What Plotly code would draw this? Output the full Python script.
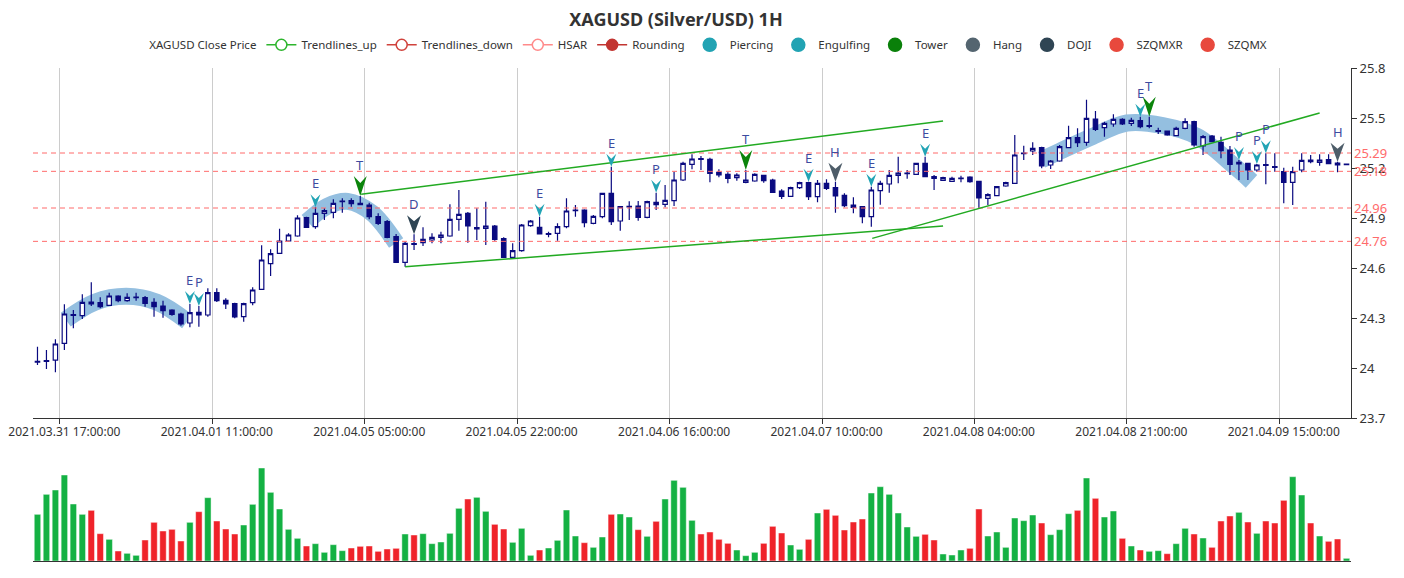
import plotly.graph_objects as go

# ---------------- data ----------------
opens = [24.036, 24.040, 24.048, 24.148, 24.316, 24.314, 24.396, 24.392, 24.376, 24.432,
         24.404, 24.422, 24.422, 24.394, 24.372, 24.348, 24.324, 24.270, 24.334, 24.318,
         24.452, 24.406, 24.386, 24.308, 24.392, 24.472, 24.626, 24.688, 24.762, 24.792,
         24.902, 24.848, 24.928, 24.934, 24.998, 25.004, 24.988, 24.978, 24.908, 24.878,
         24.788, 24.634, 24.746, 24.752, 24.768, 24.784, 24.792, 24.892, 24.928, 24.834,
         24.838, 24.852, 24.776, 24.664, 24.704, 24.854, 24.844, 24.802, 24.808, 24.848,
         24.944, 24.948, 24.868, 24.908, 25.048, 24.882, 24.966, 24.972, 24.904, 24.994,
         24.982, 25.004, 25.128, 25.222, 25.256, 25.252, 25.174, 25.162, 25.142, 25.114,
         25.122, 25.156, 25.128, 25.062, 25.030, 25.082, 25.112, 25.028, 25.108, 25.082,
         25.036, 24.978, 24.968, 24.908, 25.064, 25.104, 25.156, 25.166, 25.162, 25.228,
         25.148, 25.126, 25.120, 25.136, 25.146, 25.120, 25.018, 25.034, 25.092, 25.108,
         25.286, 25.302, 25.322, 25.218, 25.242, 25.322, 25.382, 25.354, 25.494, 25.442,
         25.464, 25.492, 25.468, 25.484, 25.450, 25.420, 25.422, 25.394, 25.438, 25.478,
         25.332, 25.392, 25.354, 25.308, 25.224, 25.228, 25.188, 25.220, 25.208, 25.178,
         25.114, 25.188, 25.248, 25.234, 25.250, 25.230, 25.220]
highs = [24.128, 24.108, 24.172, 24.382, 24.348, 24.442, 24.514, 24.424, 24.452, 24.436,
         24.448, 24.452, 24.432, 24.418, 24.404, 24.352, 24.332, 24.384, 24.372, 24.478,
         24.478, 24.418, 24.392, 24.392, 24.484, 24.736, 24.712, 24.836, 24.808, 24.916,
         24.908, 24.964, 24.958, 25.012, 25.018, 25.018, 25.032, 24.992, 24.928, 24.888,
         24.804, 24.758, 24.802, 24.844, 24.808, 24.818, 24.982, 25.068, 24.936, 24.958,
         24.998, 24.858, 24.784, 24.748, 24.864, 24.888, 24.908, 24.818, 24.868, 25.018,
         24.978, 24.952, 24.918, 25.052, 25.208, 24.972, 25.000, 25.002, 25.004, 25.052,
         25.098, 25.178, 25.238, 25.282, 25.272, 25.262, 25.192, 25.174, 25.168, 25.188,
         25.168, 25.158, 25.136, 25.072, 25.088, 25.118, 25.118, 25.128, 25.132, 25.118,
         25.048, 25.024, 24.972, 25.088, 25.124, 25.188, 25.268, 25.188, 25.232, 25.268,
         25.158, 25.148, 25.148, 25.154, 25.150, 25.124, 25.048, 25.092, 25.118, 25.398,
         25.334, 25.354, 25.328, 25.248, 25.338, 25.454, 25.438, 25.610, 25.542, 25.478,
         25.522, 25.498, 25.502, 25.508, 25.508, 25.442, 25.424, 25.448, 25.498, 25.484,
         25.398, 25.398, 25.388, 25.332, 25.248, 25.232, 25.224, 25.288, 25.288, 25.202,
         25.208, 25.288, 25.278, 25.282, 25.282, 25.238, 25.226]
lows = [24.018, 23.994, 23.974, 24.108, 24.238, 24.294, 24.372, 24.358, 24.372, 24.394,
        24.398, 24.404, 24.368, 24.308, 24.302, 24.314, 24.254, 24.244, 24.248, 24.308,
        24.396, 24.354, 24.298, 24.278, 24.376, 24.468, 24.552, 24.688, 24.758, 24.788,
        24.840, 24.836, 24.888, 24.898, 24.932, 24.968, 24.978, 24.892, 24.858, 24.778,
        24.634, 24.608, 24.708, 24.732, 24.748, 24.748, 24.788, 24.824, 24.752, 24.768,
        24.738, 24.764, 24.664, 24.658, 24.698, 24.848, 24.802, 24.784, 24.764, 24.838,
        24.908, 24.844, 24.862, 24.898, 24.858, 24.824, 24.888, 24.884, 24.898, 24.948,
        24.964, 24.972, 25.122, 25.192, 25.188, 25.114, 25.144, 25.108, 25.124, 25.108,
        25.118, 25.112, 25.052, 25.014, 25.028, 25.074, 25.008, 24.994, 25.068, 24.932,
        24.964, 24.928, 24.868, 24.848, 24.980, 25.052, 25.108, 25.136, 25.158, 25.144,
        25.068, 25.122, 25.116, 25.114, 25.112, 24.960, 24.978, 25.032, 25.088, 25.104,
        25.248, 25.278, 25.198, 25.194, 25.238, 25.318, 25.326, 25.334, 25.422, 25.388,
        25.448, 25.458, 25.452, 25.438, 25.438, 25.404, 25.394, 25.392, 25.432, 25.328,
        25.278, 25.354, 25.258, 25.158, 25.128, 25.128, 25.178, 25.102, 25.178, 24.988,
        24.978, 25.174, 25.228, 25.214, 25.222, 25.174, 25.216]
closes = [24.040, 24.044, 24.144, 24.324, 24.320, 24.394, 24.384, 24.368, 24.432, 24.404,
          24.424, 24.426, 24.388, 24.368, 24.344, 24.322, 24.264, 24.332, 24.318, 24.452,
          24.404, 24.384, 24.306, 24.386, 24.468, 24.648, 24.686, 24.762, 24.798, 24.900,
          24.844, 24.928, 24.944, 24.988, 25.002, 24.986, 24.980, 24.908, 24.868, 24.784,
          24.634, 24.748, 24.742, 24.772, 24.784, 24.798, 24.892, 24.922, 24.852, 24.842,
          24.852, 24.772, 24.664, 24.704, 24.858, 24.882, 24.804, 24.806, 24.848, 24.942,
          24.948, 24.872, 24.910, 25.048, 24.878, 24.968, 24.970, 24.904, 24.998, 24.980,
          25.006, 25.128, 25.228, 25.254, 25.252, 25.168, 25.158, 25.138, 25.158, 25.128,
          25.162, 25.124, 25.054, 25.030, 25.082, 25.112, 25.028, 25.108, 25.078, 25.032,
          24.974, 24.964, 24.908, 25.068, 25.108, 25.156, 25.170, 25.170, 25.228, 25.148,
          25.138, 25.142, 25.138, 25.140, 25.118, 25.020, 25.040, 25.088, 25.112, 25.278,
          25.290, 25.318, 25.212, 25.242, 25.328, 25.382, 25.352, 25.498, 25.432, 25.468,
          25.492, 25.464, 25.486, 25.448, 25.454, 25.424, 25.398, 25.438, 25.478, 25.338,
          25.388, 25.358, 25.304, 25.222, 25.234, 25.188, 25.218, 25.216, 25.204, 25.114,
          25.178, 25.246, 25.238, 25.248, 25.226, 25.218, 25.224]
volumes = [140, 200, 213, 258, 171, 140, 152, 82, 65, 30,
           23, 17, 63, 116, 90, 95, 60, 116, 148, 190,
           120, 96, 81, 108, 170, 279, 206, 156, 95, 68,
           45, 52, 26, 49, 31, 39, 44, 45, 29, 36,
           38, 81, 78, 82, 52, 57, 83, 158, 186, 191,
           149, 110, 96, 56, 98, 17, 33, 39, 62, 153,
           75, 55, 41, 72, 140, 141, 132, 94, 74, 119,
           186, 242, 221, 122, 81,
           87, 65, 53, 33, 16, 26, 53, 104, 84, 48,
           35, 65, 144, 155, 137, 93, 117, 126, 204, 223,
           200, 144, 102, 74, 80, 63, 21, 18, 33, 38,
           156, 75, 87, 41, 129, 121, 138, 114, 79, 94,
           142, 152, 249, 188, 132, 150, 68, 45, 33, 29,
           31, 22, 52, 98, 81, 69, 41, 120, 135, 146,
           117, 83, 120, 114, 182, 253, 198, 114, 75, 59,
           66, 8]

label_idx = [3, 20, 37, 54, 71, 88, 105, 122, 139]
label_text = ["2021.03.31 17:00:00", "2021.04.01 11:00:00", "2021.04.05 05:00:00",
              "2021.04.05 22:00:00", "2021.04.06 16:00:00", "2021.04.07 10:00:00",
              "2021.04.08 04:00:00", "2021.04.08 21:00:00", "2021.04.09 15:00:00"]
price_ticks = [23.7, 24.0, 24.3, 24.6, 24.9, 25.2, 25.5, 25.8]
price_ticktext = ["23.7", "24", "24.3", "24.6", "24.9", "25.2", "25.5", "25.8"]

hsar_levels = [25.29, 25.18, 24.96, 24.76]

trend_up_lines = [
    [(36.1, 25.042), (101.0, 25.482)],
    [(41.0, 24.608), (101.0, 24.852)],
    [(93.1, 24.778), (143.0, 25.530)],
]
rounding_arcs = [
    [(3.15, 24.29), (6.4, 24.395), (9.9, 24.43), (13.3, 24.395), (16.7, 24.28)],
    [(30.1, 24.88), (32.3, 24.97), (34.6, 25.00), (37.3, 24.93), (40.0, 24.75)],
    [(112.0, 25.25), (114.0, 25.30), (117.7, 25.39), (121.5, 25.47), (125.5, 25.455),
     (129.3, 25.39), (133.5, 25.21), (135.4, 25.12)],
]

engulfing_idx = [17, 31, 56, 64, 86, 93, 99, 123]
piercing_idx = [18, 69, 134, 136, 137]
tower_idx = [36, 79, 124]
hang_idx = [89, 145]
doji_idx = [42]

# ---------------- styles ----------------
NAVY = "#0a0a80"
UP = "#14b143"
DOWN = "#ef232a"
TEAL = "#22a4b5"
TOWER = "#0b840b"
HANG = "#4e5d69"
DOJI = "#2f4554"
LETTER = "#3d4ba0"
GREEN_LINE = "#22aa22"
HSAR_C = "#ff6b6b"
BAND = "#94bfe0"

N = len(opens)
xs = list(range(N))

fig = go.Figure()

# rounding bands (base subplot, underneath candles)
for pts in rounding_arcs:
    fig.add_trace(go.Scatter(x=[p[0] for p in pts], y=[p[1] for p in pts], mode="lines",
                             line=dict(color=BAND, width=17, shape="spline"),
                             hoverinfo="skip", showlegend=False, xaxis="x", yaxis="y"))

# candles on overlay subplot
fig.add_trace(go.Candlestick(
    x=xs, open=opens, high=highs, low=lows, close=closes,
    increasing=dict(line=dict(color=NAVY, width=1.2), fillcolor="#ffffff"),
    decreasing=dict(line=dict(color=NAVY, width=1.2), fillcolor=NAVY),
    whiskerwidth=0, showlegend=False, xaxis="x3", yaxis="y3", name="XAGUSD"))

# HSAR lines
for lv in hsar_levels:
    fig.add_trace(go.Scatter(x=[-0.5, N - 0.5], y=[lv, lv], mode="lines",
                             line=dict(color=HSAR_C, width=1, dash="5px,4px"),
                             hoverinfo="skip", showlegend=False, xaxis="x3", yaxis="y3"))

# trendlines
for seg in trend_up_lines:
    fig.add_trace(go.Scatter(x=[p[0] for p in seg], y=[p[1] for p in seg], mode="lines",
                             line=dict(color=GREEN_LINE, width=1.5),
                             hoverinfo="skip", showlegend=False, xaxis="x3", yaxis="y3"))

# volume
vol_colors = [UP if c >= o else DOWN for o, c in zip(opens, closes)]
fig.add_trace(go.Bar(x=xs, y=volumes,
                     marker=dict(color=vol_colors, line=dict(color="rgba(255,255,255,0.45)", width=1)),
                     showlegend=False, xaxis="x2", yaxis="y2", hoverinfo="skip"))

# legend entries
def leg(name, mode, color, line=None, mfill=None, size=12):
    m = dict(color=mfill if mfill else color, size=size, symbol="circle",
             line=dict(color=color, width=1.5))
    kw = dict(x=[None], y=[None], name=name, mode=mode, marker=m, xaxis="x", yaxis="y")
    if line:
        kw["line"] = dict(color=line, width=1.5)
    fig.add_trace(go.Scatter(**kw))

fig.add_trace(go.Scatter(x=[None], y=[None], name="XAGUSD Close Price", mode="lines",
                         line=dict(color="rgba(0,0,0,0)"), xaxis="x", yaxis="y"))
leg("Trendlines_up", "lines+markers", "#2db52d", line="#2db52d", mfill="#ffffff", size=11)
leg("Trendlines_down", "lines+markers", "#d0423c", line="#d0423c", mfill="#ffffff", size=11)
leg("HSAR", "lines+markers", "#ff8a8a", line="#ff8a8a", mfill="#ffffff", size=11)
leg("Rounding", "lines+markers", "#c23531", line="#c23531", size=11)
leg("Piercing", "markers", "#22a3b3", size=13)
leg("Engulfing", "markers", "#22a3b3", size=13)
leg("Tower", "markers", "#0a800a", size=13)
leg("Hang", "markers", "#546570", size=13)
leg("DOJI", "markers", "#2f4554", size=13)
leg("SZQMXR", "markers", "#e8493d", size=13)
leg("SZQMX", "markers", "#e8493d", size=13)

# signal arrows + letters
shapes = []
annotations = []
signal_groups = [
    (engulfing_idx, "E", TEAL, 10, 13, 5),
    (piercing_idx, "P", TEAL, 10, 13, 5),
    (tower_idx, "T", TOWER, 13, 20, 7),
    (hang_idx, "H", HANG, 14, 19, 6),
    (doji_idx, "D", DOJI, 14, 19, 6),
]
for idxs, letter, color, w, h, notch in signal_groups:
    for i in idxs:
        shapes.append(dict(type="path", xref="x", yref="y", xsizemode="pixel", ysizemode="pixel",
                           xanchor=i, yanchor=highs[i],
                           path=f"M0,0 L{-w/2},{h} L0,{h-notch} L{w/2},{h} Z",
                           fillcolor=color, line=dict(width=0)))
        annotations.append(dict(x=i, y=highs[i], xref="x", yref="y", text=letter, showarrow=False,
                                yanchor="bottom", yshift=h, font=dict(size=13, color=LETTER)))

for lv in hsar_levels:
    annotations.append(dict(x=1, xref="paper", xanchor="left", xshift=1, y=lv, yref="y",
                            text=f"{lv:.2f}", showarrow=False, font=dict(size=13, color=HSAR_C)))

# the page body adds an 8px offset, so the figure is 8px smaller and margins shifted
fig.update_layout(
    width=1396, height=570,
    margin=dict(l=25, r=53, t=60, b=17, autoexpand=False),
    paper_bgcolor="white", plot_bgcolor="white",
    font=dict(family="Noto Sans, Liberation Sans, sans-serif", color="#333"),
    title=dict(text="<b>XAGUSD (Silver/USD) 1H</b>", x=0.4785, xref="container", xanchor="center",
               y=0.979, yref="container", yanchor="middle", font=dict(size=18, color="#333")),
    legend=dict(orientation="h", x=0.499, xanchor="center", y=1.047, yanchor="middle",
                font=dict(size=11.5, color="#333"), bgcolor="rgba(0,0,0,0)", itemwidth=30,
                tracegroupgap=0),
    bargap=0.28,
    showlegend=True,
    xaxis=dict(domain=[0, 1], anchor="y", range=[-0.5, N - 0.5], tickmode="array",
               tickvals=label_idx, ticktext=label_text, ticks="", showgrid=False,
               showline=True, linecolor="#333", linewidth=1, zeroline=False,
               rangeslider=dict(visible=False), tickfont=dict(size=12, color="#333"),
               ticklabelstandoff=3,
               minor=dict(tickmode="array", tickvals=[v - 0.5 for v in label_idx], showgrid=True,
                          gridcolor="#cccccc", gridwidth=1, ticks="outside", ticklen=5,
                          tickcolor="#333")),
    yaxis=dict(domain=[0.29, 1], anchor="x", side="right", range=[23.7, 25.8], tickmode="array",
               tickvals=price_ticks, ticktext=price_ticktext, ticks="outside", ticklen=5,
               tickcolor="#333", showline=True, linecolor="#333", linewidth=1, showgrid=False,
               zeroline=False, tickfont=dict(size=13, color="#333")),
    xaxis3=dict(overlaying="x", matches="x", anchor="y3", visible=False,
                rangeslider=dict(visible=False), showgrid=False, zeroline=False),
    yaxis3=dict(overlaying="y", anchor="x3", range=[23.7, 25.8], visible=False,
                showgrid=False, zeroline=False),
    xaxis2=dict(domain=[0, 1], anchor="y2", matches="x", showticklabels=False, showline=True,
                linecolor="#333", linewidth=1, showgrid=False, zeroline=False, ticks=""),
    yaxis2=dict(domain=[0, 0.215], anchor="x2", range=[0, 318], visible=False),
    shapes=shapes,
    annotations=annotations,
)

fig.write_html("out.html")
